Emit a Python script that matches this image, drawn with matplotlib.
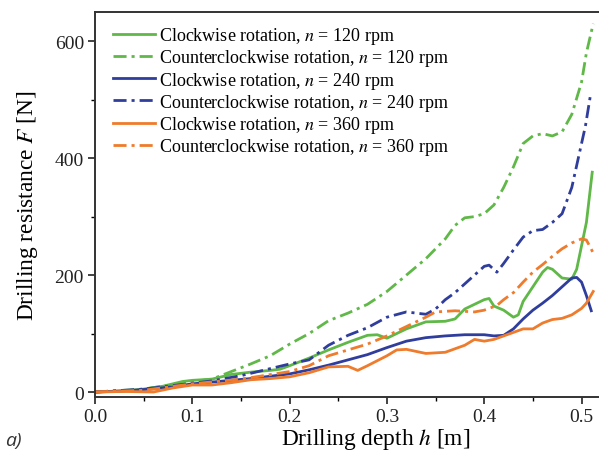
import matplotlib
matplotlib.use("Agg")
import matplotlib.pyplot as plt
from matplotlib.ticker import MultipleLocator

plt.rcParams['font.family'] = ['Liberation Serif', 'DejaVu Serif']
plt.rcParams['mathtext.fontset'] = 'stix'

# Clockwise 120 rpm
cw120_x = [0, 0.03, 0.05, 0.07, 0.09, 0.1, 0.12, 0.14, 0.16, 0.18, 0.19, 0.2, 0.22, 0.24, 0.26, 0.28, 0.29,
           0.30, 0.31, 0.32, 0.34, 0.36, 0.37, 0.38, 0.39, 0.40, 0.405, 0.41, 0.42, 0.43, 0.435, 0.44, 0.45,
           0.46, 0.465, 0.47, 0.48, 0.49, 0.495, 0.50, 0.505, 0.511]
cw120_y = [0, 2, 5, 10, 18, 20, 22, 30, 34, 37, 39, 45, 58, 72, 85, 97, 98,
           92, 100, 108, 120, 121, 125, 142, 150, 158, 160, 147, 140, 128, 132, 155, 180,
           205, 213, 210, 195, 193, 210, 250, 290, 376]

# Counterclockwise 120 rpm
ccw120_x = [0, 0.05, 0.1, 0.12, 0.14, 0.16, 0.18, 0.2, 0.22, 0.24, 0.26, 0.28, 0.30, 0.32, 0.34, 0.36,
            0.37, 0.38, 0.39, 0.40, 0.41, 0.42, 0.43, 0.44, 0.45, 0.46, 0.47, 0.48, 0.49, 0.50, 0.505, 0.512]
ccw120_y = [0, 5, 18, 22, 35, 48, 62, 82, 100, 122, 135, 150, 172, 200, 228, 262,
            285, 298, 300, 305, 320, 350, 385, 425, 438, 442, 438, 445, 475, 530, 580, 630]

# Clockwise 240 rpm
cw240_x = [0, 0.03, 0.056, 0.08, 0.1, 0.12, 0.14, 0.16, 0.18, 0.2, 0.22, 0.24, 0.26, 0.28, 0.30, 0.32,
           0.34, 0.36, 0.38, 0.40, 0.41, 0.42, 0.43, 0.44, 0.45, 0.46, 0.47, 0.48, 0.49, 0.495, 0.50,
           0.505, 0.51]
cw240_y = [0, 2, 5, 9, 14, 17, 20, 23, 27, 31, 38, 46, 55, 64, 76, 87,
           93, 96, 98, 98, 96, 97, 108, 125, 140, 152, 165, 180, 195, 196, 188,
           165, 139]

# Counterclockwise 240 rpm
ccw240_x = [0, 0.05, 0.1, 0.12, 0.15, 0.17, 0.2, 0.22, 0.24, 0.26, 0.28, 0.30, 0.32, 0.34, 0.35, 0.36,
            0.37, 0.38, 0.39, 0.40, 0.405, 0.413, 0.42, 0.43, 0.44, 0.45, 0.46, 0.47, 0.48, 0.49, 0.498,
            0.504, 0.509]
ccw240_y = [0, 5, 15, 19, 28, 36, 48, 55, 80, 97, 110, 128, 137, 133, 142, 158,
            170, 185, 200, 215, 217, 205, 220, 243, 265, 276, 278, 290, 305, 350, 410,
            455, 506]

# Clockwise 360 rpm
cw360_x = [0, 0.03, 0.06, 0.08, 0.1, 0.12, 0.14, 0.16, 0.18, 0.2, 0.22, 0.24, 0.26, 0.27, 0.28, 0.30,
           0.31, 0.32, 0.34, 0.36, 0.38, 0.39, 0.40, 0.41, 0.42, 0.43, 0.44, 0.45, 0.46, 0.47, 0.48,
           0.49, 0.50, 0.505, 0.512]
cw360_y = [0, 1, 0, 7, 12, 12, 16, 21, 23, 26, 33, 43, 44, 37, 45, 62,
           72, 73, 66, 68, 80, 90, 87, 90, 96, 102, 108, 108, 118, 124, 126,
           132, 143, 152, 172]

# Counterclockwise 360 rpm
ccw360_x = [0, 0.05, 0.1, 0.15, 0.2, 0.22, 0.24, 0.26, 0.28, 0.30, 0.32, 0.34, 0.35, 0.37, 0.39, 0.40,
            0.413, 0.42, 0.43, 0.44, 0.45, 0.46, 0.47, 0.48, 0.49, 0.50, 0.505, 0.512]
ccw360_y = [0, 3, 14, 22, 35, 45, 62, 72, 82, 96, 112, 128, 137, 139, 137, 140,
            148, 158, 170, 188, 205, 218, 232, 245, 255, 262, 260, 238]

labels = [
    "Clockwise rotation, $n$ = 120 rpm",
    "Counterclockwise rotation, $n$ = 120 rpm",
    "Clockwise rotation, $n$ = 240 rpm",
    "Counterclockwise rotation, $n$ = 240 rpm",
    "Clockwise rotation, $n$ = 360 rpm",
    "Counterclockwise rotation, $n$ = 360 rpm",
]

green = '#5fb847'
blue = '#2f3d9c'
orange = '#ef7b2c'

fig = plt.figure(figsize=(5.99, 4.52), dpi=100)
ax = fig.add_axes([95/599, (452-398)/452, 506/599, (398-13)/452])

dashdot = (0, (4.7, 1.8, 1.1, 1.8))
ax.plot(cw120_x, cw120_y, color=green, lw=2.0, label=labels[0])
ax.plot(ccw120_x, ccw120_y, color=green, lw=2.0, ls=dashdot, label=labels[1])
ax.plot(cw240_x, cw240_y, color=blue, lw=2.0, label=labels[2])
ax.plot(ccw240_x, ccw240_y, color=blue, lw=2.0, ls=dashdot, label=labels[3])
ax.plot(cw360_x, cw360_y, color=orange, lw=2.0, label=labels[4])
ax.plot(ccw360_x, ccw360_y, color=orange, lw=2.0, ls=dashdot, label=labels[5])

ax.set_xlim(0, 0.52)
ax.set_ylim(-8.5, 650)
ax.xaxis.set_major_locator(MultipleLocator(0.1))
ax.xaxis.set_minor_locator(MultipleLocator(0.05))
ax.yaxis.set_major_locator(MultipleLocator(200))
ax.yaxis.set_minor_locator(MultipleLocator(100))
ax.xaxis.set_major_formatter(matplotlib.ticker.FormatStrFormatter('%.1f'))
ax.tick_params(which='major', direction='out', length=5, width=1.2, labelsize=14,
               colors='#222222', pad=3)
ax.tick_params(which='minor', direction='out', length=3, width=1.0)
for side in ['left', 'bottom', 'top']:
    ax.spines[side].set_linewidth(1.4)
    ax.spines[side].set_color('#333333')
ax.spines['right'].set_visible(False)

ax.set_ylabel("Drilling resistance $F$ [N]", fontsize=16.8)
ax.yaxis.set_label_coords((40 - 95) / 506, 0.5)
ax.set_xlabel("Drilling depth $h$ [m]", fontsize=16.8)
ax.xaxis.set_label_coords((376 - 95) / 506, (398 - 427) / 385)

leg = ax.legend(loc='upper left', frameon=False, fontsize=13, handlelength=2.33,
                handletextpad=0.22, labelspacing=0.07, borderaxespad=0.0, borderpad=0.0,
                bbox_to_anchor=((113 - 95) / 506, (398 - 26) / 385))

fig.text(5/599, 1 - 446/452, "a)", fontsize=14, family='Open Sans', style='italic', color='#333333')

fig.savefig("out.png", dpi=100)
